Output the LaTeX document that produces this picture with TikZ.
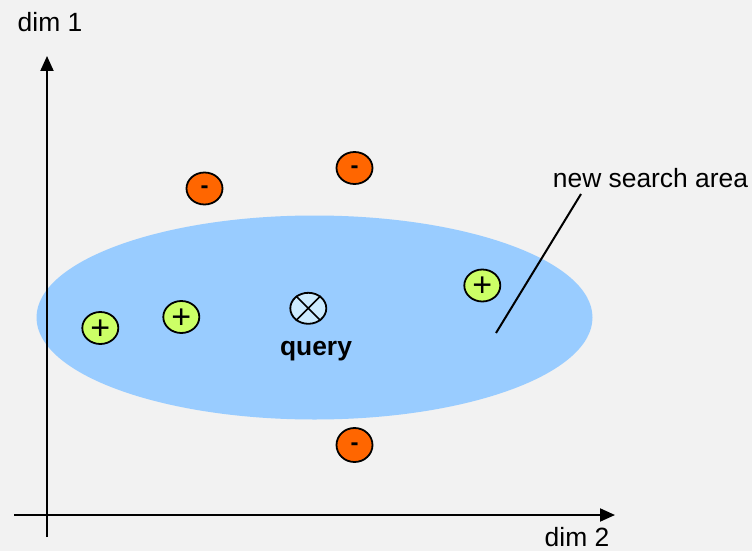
\documentclass[tikz,border=0pt]{standalone}
\usepackage{fontspec}
\setmainfont{Liberation Sans}
\usetikzlibrary{shapes.geometric,arrows.meta}
\definecolor{bgcol}{HTML}{F2F2F2}
\definecolor{areacol}{HTML}{99CCFF}
\definecolor{negcol}{HTML}{FF6600}
\definecolor{poscol}{HTML}{CCFF66}
\definecolor{querycol}{HTML}{CCEBFF}
\begin{document}
\begin{tikzpicture}[x=1pt,y=-1pt,
  axis/.style={line width=2pt,-{Triangle[length=15pt,width=13pt]}},
  lbl/.style={font=\fontsize{26.4}{30}\selectfont, inner sep=0pt},
  sample/.style={ellipse, draw=black, line width=1.8pt, inner sep=0pt,
    minimum width=36pt, minimum height=32pt},
  negpt/.style={sample, fill=negcol},
  pospt/.style={sample, fill=poscol},
  leader/.style={line width=2pt}]
  % background
  \fill[bgcol] (0,0) rectangle (752,551);
  \useasboundingbox (0,0) rectangle (752,551);

  % search area
  \node[ellipse, fill=areacol, inner sep=0pt, minimum width=556pt,
        minimum height=204pt] (area) at (314.5,317.5) {};

  % axes
  \coordinate (y0) at (47,537);
  \coordinate (y1) at (47,56);
  \coordinate (x0) at (14,515);
  \coordinate (x1) at (615,515);
  \draw[axis] (y0) -- (y1);
  \draw[axis] (x0) -- (x1);
  \node[lbl] (dimone) at (50,22) {dim 1};
  \node[lbl] (dimtwo) at (577,537) {dim 2};

  % negative samples
  \node[negpt] (n1) at (204.5,188.5) {};
  \node[negpt] (n2) at (354.5,168) {};
  \node[negpt, minimum height=34pt] (n3) at (354.5,445) {};
  \foreach \n in {n1,n2,n3}
    \node[inner sep=0pt, font=\bfseries\fontsize{24}{24}\selectfont]
      at ([yshift=-1.5pt]\n.center) {-};

  % positive samples
  \node[pospt] (p1) at (100.3,328) {};
  \node[pospt] (p2) at (181.3,317) {};
  \node[pospt] (p3) at (482.3,285.5) {};
  \foreach \p in {p1,p2,p3}
    \node[inner sep=0pt, font=\fontsize{34}{34}\selectfont]
      at ([yshift=-1.5pt]\p.center) {+};

  % query point
  \node[ellipse, draw=black, line width=1.8pt, fill=querycol, inner sep=0pt,
        minimum width=36pt, minimum height=31pt] (q) at (308.3,308.3) {};
  \draw[line width=1.6pt] (q.45) -- (q.225) (q.135) -- (q.-45);
  \node[lbl, font=\bfseries\fontsize{26.4}{30}\selectfont] (qlabel) at (316,351) {query};

  % annotation
  \node[lbl] (newarea) at (650.5,178) {new search area};
  \coordinate (lead0) at (581,194);
  \coordinate (lead1) at (496,333);
  \draw[leader] (lead0) -- (lead1);
\end{tikzpicture}
\end{document}
